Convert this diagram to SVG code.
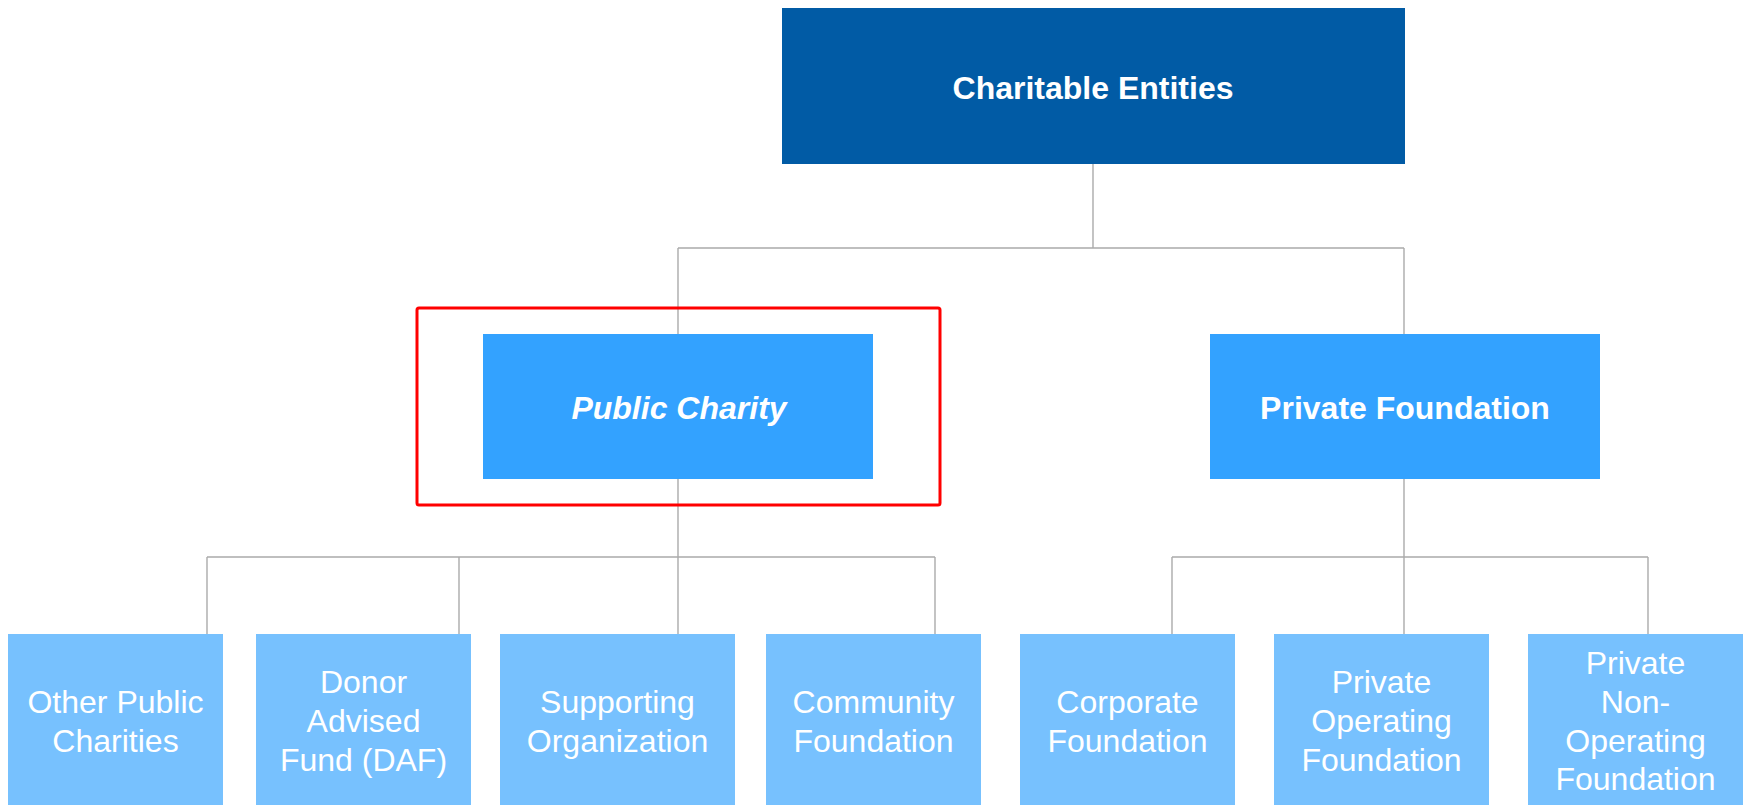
<svg xmlns="http://www.w3.org/2000/svg" width="1746" height="805" viewBox="0 0 1746 805">
<style>
.conn{fill:none;stroke:#ABABAB;stroke-width:1.4}
.t{font-family:"Liberation Sans",Arial,sans-serif;fill:#FFFFFF;text-anchor:middle;font-size:32px}
.b{font-weight:bold}
.l0{fill:#015BA5}
.l1{fill:#33A2FF}
.l2{fill:#77C1FE}
</style>
<rect width="1746" height="805" fill="#FFFFFF"/>
<g id="connectors">
<path class="conn" d="M1093,164 V248 M678,248 H1404 M678,248 V334 M1404,248 V334"/>
<path class="conn" d="M678,479 V557 M207,557 H935 M207,557 V634 M459,557 V634 M678,557 V634 M935,557 V634"/>
<path class="conn" d="M1404,479 V557 M1172,557 H1648 M1172,557 V634 M1404,557 V634 M1648,557 V634"/>
</g>
<g id="charitable-entities">
<rect class="l0" x="782" y="8" width="623" height="156"/>
<text class="t b" x="1093" y="99">Charitable Entities</text>
</g>
<g id="public-charity">
<rect class="l1" x="483" y="334" width="390" height="145"/>
<text class="t b" x="679" y="419" font-style="italic">Public Charity</text>
</g>
<g id="private-foundation">
<rect class="l1" x="1210" y="334" width="390" height="145"/>
<text class="t b" x="1405" y="419">Private Foundation</text>
</g>
<g id="other-public-charities">
<rect class="l2" x="8" y="634" width="215" height="171"/>
<text class="t" x="115.5" y="712.7">Other Public<tspan x="115.5" y="751.7">Charities</tspan></text>
</g>
<g id="donor-advised-fund">
<rect class="l2" x="256" y="634" width="215" height="171"/>
<text class="t" x="363.5" y="693.3">Donor<tspan x="363.5" y="732.3">Advised</tspan><tspan x="363.5" y="771">Fund (DAF)</tspan></text>
</g>
<g id="supporting-organization">
<rect class="l2" x="500" y="634" width="235" height="171"/>
<text class="t" x="617.5" y="712.7">Supporting<tspan x="617.5" y="751.7">Organization</tspan></text>
</g>
<g id="community-foundation">
<rect class="l2" x="766" y="634" width="215" height="171"/>
<text class="t" x="873.5" y="712.7">Community<tspan x="873.5" y="751.7">Foundation</tspan></text>
</g>
<g id="corporate-foundation">
<rect class="l2" x="1020" y="634" width="215" height="171"/>
<text class="t" x="1127.5" y="713.3">Corporate<tspan x="1127.5" y="752.3">Foundation</tspan></text>
</g>
<g id="private-operating-foundation">
<rect class="l2" x="1274" y="634" width="215" height="171"/>
<text class="t" x="1381.5" y="693.3">Private<tspan x="1381.5" y="732.3">Operating</tspan><tspan x="1381.5" y="771">Foundation</tspan></text>
</g>
<g id="private-non-operating-foundation">
<rect class="l2" x="1528" y="634" width="215" height="171"/>
<text class="t" x="1635.5" y="674.3">Private<tspan x="1635.5" y="713.3">Non-</tspan><tspan x="1635.5" y="752.3">Operating</tspan><tspan x="1635.5" y="790">Foundation</tspan></text>
</g>
<g id="highlight">
<rect x="417" y="308" width="523" height="197" rx="2" fill="none" stroke="#FF0000" stroke-width="3"/>
</g>
</svg>
